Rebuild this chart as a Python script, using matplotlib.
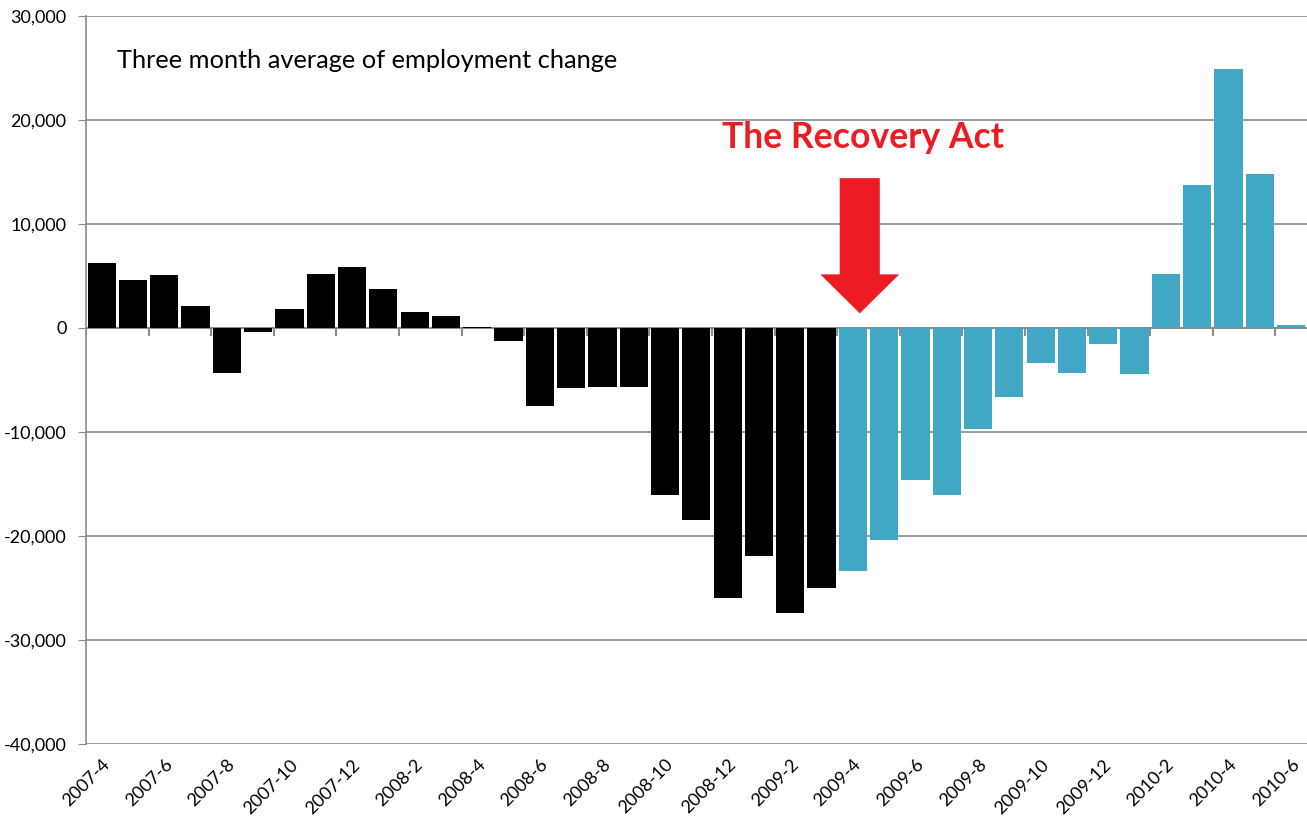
import numpy as np
import matplotlib.pyplot as plt
from matplotlib.patches import FancyArrow

months = ["2007-4", "2007-5", "2007-6", "2007-7", "2007-8", "2007-9", "2007-10", "2007-11", "2007-12",
          "2008-1", "2008-2", "2008-3", "2008-4", "2008-5", "2008-6", "2008-7", "2008-8", "2008-9",
          "2008-10", "2008-11", "2008-12", "2009-1", "2009-2", "2009-3", "2009-4", "2009-5", "2009-6",
          "2009-7", "2009-8", "2009-9", "2009-10", "2009-11", "2009-12", "2010-1", "2010-2", "2010-3",
          "2010-4", "2010-5", "2010-6"]
change = [6200, 4600, 5100, 2100, -4300, -400, 1800, 5200, 5900,
          3750, 1550, 1150, 100, -1250, -7500, -5750, -5650, -5650,
          -16050, -18450, -25950, -21900, -27400, -25000, -23350, -20400, -14600,
          -16050, -9700, -6600, -3350, -4300, -1550, -4400, 5200, 13750,
          24900, 14800, 300]
recovery_start = "2009-4"

plt.rcParams['font.family'] = ['Lato', 'DejaVu Sans']
fig = plt.figure(figsize=(13.07, 8.19), dpi=100)
ax = fig.add_axes([0.0658, 0.0916, 0.934, 0.889])

x = np.arange(len(months))
k = months.index(recovery_start)
cols = ['#000000' if i < k else '#40A8C5' for i in x]
ax.bar(x, change, width=0.9, color=cols, zorder=3)

ax.set_xlim(-0.5, len(months) - 0.5)
ax.set_ylim(-40000, 30000)
ax.set_yticks(np.arange(-40000, 30001, 10000))
ax.set_yticklabels([f"{v:,}" for v in range(-40000, 30001, 10000)], fontsize=13)
ax.grid(axis='y', color='#8c8c8c', lw=1.2, zorder=0)
ax.tick_params(axis='y', length=6, color='#8c8c8c', pad=8)
ax.set_xticks(x[::2])
ax.set_xticklabels(months[::2], rotation=45, ha='right', rotation_mode='anchor', fontsize=13)
ax.tick_params(axis='x', length=0, pad=9)
for s in ['top', 'right', 'bottom']:
    ax.spines[s].set_visible(False)
ax.spines['left'].set_color('#8c8c8c')
ax.spines['left'].set_linewidth(1.2)

# zero axis with tick marks between category pairs
ax.axhline(0, color='#8c8c8c', lw=1.5, zorder=2)
ax.plot(x[::2] - 0.5, np.zeros(len(x[::2])), ls='none', marker=3, markersize=6,
        color='#8c8c8c', mew=1.5, zorder=2)

ax.text(0.49, 25700, "Three month average of employment change", fontsize=18.3, va='center')
ax.text(24.32, 18300, "The Recovery Act", fontsize=25.6, fontweight='bold', color='#ED1C24',
        ha='center', va='center')
ax.add_patch(FancyArrow(24.22, 14400, 0, -13000, width=1.28, head_width=2.52, head_length=3750,
                        length_includes_head=True, color='#ED1C24', lw=0, zorder=5))

fig.savefig("out.png", dpi=100)
